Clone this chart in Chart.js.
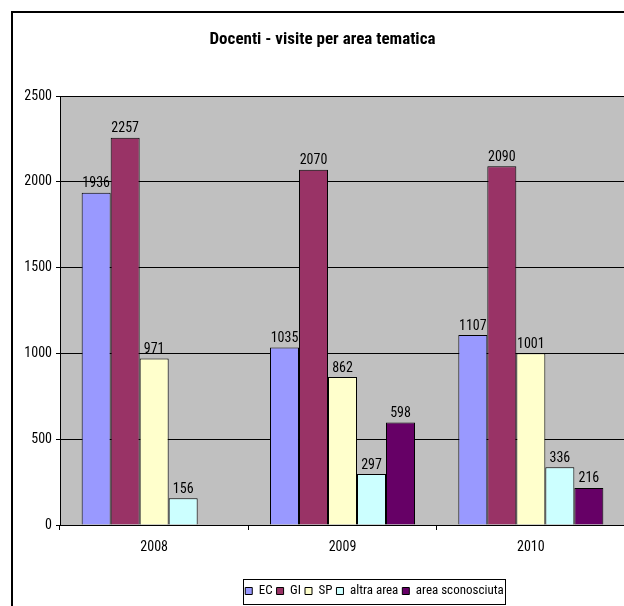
<!DOCTYPE html>
<html>
<head>
<meta charset="utf-8">
<script src="https://cdn.jsdelivr.net/npm/chart.js@4.4.1/dist/chart.umd.min.js"></script>
<style>
   body { margin: 0; overflow: hidden; background: #fff; }
   canvas { position: absolute; left: 0; top: 0; }
</style>
</head>
<body>
<canvas id="chartDocenti" width="650" height="606"></canvas>
<script>
var anni = ['2008', '2009', '2010']
var valoriEC = [1936, 1035, 1107]
var valoriGI = [2257, 2070, 2090]
var valoriSP = [971, 862, 1001]
var valoriAltra = [156, 297, 336]
var valoriSconosciuta = [null, 598, 216]
var tickY = [0, 500, 1000, 1500, 2000, 2500]

var fontNarrow = "'Roboto Condensed', 'Liberation Sans', sans-serif"

function creaDataset(label, data, colore){
   return {
      label: label,
      data: data,
      backgroundColor: colore,
      borderColor: '#000',
      borderWidth: 1,
      borderSkipped: 'bottom',
      categoryPercentage: 0.77,
      barPercentage: 1.0
   }
}

// sfondo grigio, cornice, etichette e riquadro legenda
const pluginDisegno = {
   id: 'pluginDisegno',
   beforeDraw(chart) {
      const ctx = chart.ctx
      const a = chart.chartArea
      ctx.save()
      ctx.fillStyle = '#fff'
      ctx.fillRect(0, 0, chart.width, chart.height)
      ctx.fillStyle = '#c0c0c0'
      ctx.fillRect(a.left, a.top, a.right - a.left, a.bottom - a.top)
      ctx.restore()
   },
   afterLayout(chart) {
      // in Excel titolo e legenda non sono centrati sul canvas
      chart.legend.left += 62
      chart.legend.right += 62
      chart.titleBlock.left += 10
      chart.titleBlock.right += 10
   },
   afterDatasetsDraw(chart) {
      const ctx = chart.ctx
      ctx.save()
      ctx.font = '14px ' + fontNarrow
      ctx.fillStyle = '#000'
      ctx.textAlign = 'center'
      ctx.textBaseline = 'alphabetic'
      chart.data.datasets.forEach(function(ds, i){
         const meta = chart.getDatasetMeta(i)
         meta.data.forEach(function(bar, j){
            if (ds.data[j] == null) return
            ctx.fillText(ds.data[j], bar.x, bar.y - 5.5)
         })
      })
      ctx.restore()
   },
   afterDraw(chart) {
      const ctx = chart.ctx
      ctx.save()
      ctx.strokeStyle = '#000'
      ctx.lineWidth = 2
      ctx.strokeRect(12, 12, 700, 700)
      const hb = chart.legend.legendHitBoxes
      if (hb.length) {
         const ultimo = hb[hb.length - 1]
         const x1 = hb[0].left - 2
         const x2 = ultimo.left + ultimo.width + 2
         ctx.lineWidth = 1
         ctx.strokeRect(Math.round(x1) + 0.5, 579.5, Math.round(x2 - x1), 25)
      }
      ctx.restore()
   }
}

const ctx = document.getElementById('chartDocenti').getContext('2d')

new Chart(ctx, {
   type: 'bar',
   data: {
      labels: anni,
      datasets: [
         creaDataset('EC', valoriEC, '#9999ff'),
         creaDataset('GI', valoriGI, '#993366'),
         creaDataset('SP', valoriSP, '#ffffcc'),
         creaDataset('altra area', valoriAltra, '#ccffff'),
         creaDataset('area sconosciuta', valoriSconosciuta, '#660066')
      ]
   },
   options: {
      responsive: false,
      animation: false,
      devicePixelRatio: 1,
      layout: {
         padding: { left: 0, right: 25, top: 0, bottom: -1.5 }
      },
      plugins: {
         title: {
            display: true,
            text: 'Docenti - visite per area tematica',
            color: '#000',
            font: { family: fontNarrow, size: 17, weight: 'bold' },
            padding: { top: 30, bottom: 45.6 }
         },
         legend: {
            display: true,
            position: 'bottom',
            labels: {
               color: '#000',
               font: { family: fontNarrow, size: 13 },
               boxWidth: 7,
               boxHeight: 7,
               padding: 4
            }
         },
         tooltip: { enabled: false }
      },
      scales: {
         x: {
            grid: {
               display: true,
               drawOnChartArea: false,
               drawTicks: true,
               tickLength: 5,
               color: '#000',
               offset: true
            },
            border: { display: true, color: '#000', width: 1 },
            ticks: {
               color: '#000',
               font: { family: fontNarrow, size: 14 },
               padding: 9
            },
            afterFit: function(scale){ scale.height = 55.5 }
         },
         y: {
            min: 0,
            max: 2500,
            afterBuildTicks: function(scale){
               scale.ticks = tickY.map(function(v){ return { value: v } })
            },
            grid: {
               color: '#000',
               tickLength: 4,
               drawTicks: true
            },
            border: { display: true, color: '#000', width: 1 },
            ticks: {
               color: '#000',
               font: { family: fontNarrow, size: 14 },
               padding: 4,
               callback: function(v){ return String(v) }
            },
            afterFit: function(scale){ scale.width = 60 }
         }
      }
   },
   plugins: [pluginDisegno]
})
</script>
</body>
</html>
